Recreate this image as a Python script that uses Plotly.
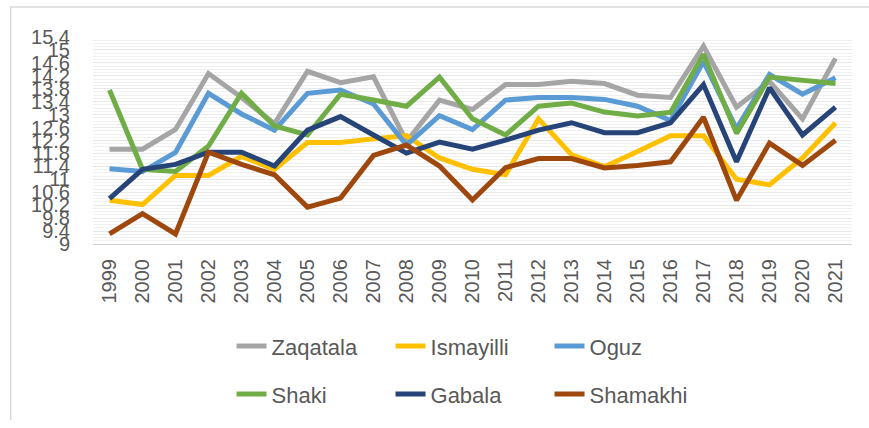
import plotly.graph_objects as go

years = [str(y) for y in range(1999, 2022)]

zaqatala = [11.93, 11.93, 12.54, 14.27, 13.53, 12.72, 14.34, 13.99, 14.17, 12.17, 13.45, 13.16,
            13.93, 13.93, 14.03, 13.96, 13.60, 13.53, 15.12, 13.23, 14.03, 12.87, 14.74]
ismayilli = [10.35, 10.22, 11.12, 11.12, 11.71, 11.31, 12.14, 12.14, 12.25, 12.35, 11.66, 11.31,
             11.14, 12.87, 11.76, 11.39, 11.86, 12.35, 12.35, 11.00, 10.83, 11.66, 12.74]
oguz = [11.33, 11.24, 11.83, 13.66, 13.02, 12.52, 13.66, 13.76, 13.33, 12.06, 12.97, 12.54,
        13.45, 13.53, 13.53, 13.47, 13.26, 12.82, 14.64, 12.57, 14.24, 13.63, 14.14]
shaki = [13.76, 11.31, 11.24, 12.03, 13.66, 12.65, 12.37, 13.63, 13.45, 13.26, 14.16, 12.87,
         12.37, 13.26, 13.36, 13.08, 12.96, 13.07, 14.87, 12.42, 14.16, 14.06, 13.96]
gabala = [10.40, 11.31, 11.46, 11.84, 11.84, 11.41, 12.52, 12.94, 12.37, 11.81, 12.15, 11.93,
          12.21, 12.52, 12.75, 12.44, 12.44, 12.75, 13.93, 11.54, 13.83, 12.37, 13.23]
shamakhi = [9.31, 9.94, 9.31, 11.84, 11.46, 11.14, 10.14, 10.42, 11.74, 12.06, 11.41, 10.36,
            11.36, 11.64, 11.64, 11.35, 11.43, 11.54, 12.92, 10.35, 12.12, 11.43, 12.21]

series = [
    ("Zaqatala", zaqatala, "#A5A5A5", "legend"),
    ("Ismayilli", ismayilli, "#FFC000", "legend"),
    ("Oguz", oguz, "#5B9BD5", "legend"),
    ("Shaki", shaki, "#70AD47", "legend2"),
    ("Gabala", gabala, "#264478", "legend2"),
    ("Shamakhi", shamakhi, "#9E480E", "legend2"),
]

y_ticks = [round(9 + 0.4 * i, 1) for i in range(17)]
y_labels = [f"{v:g}" for v in y_ticks]

fig = go.Figure()
for name, vals, color, leg in series:
    fig.add_trace(go.Scatter(
        x=years, y=vals, name=name, mode="lines",
        line=dict(color=color, width=5),
        legend=leg,
    ))

font_col = "#595959"
fam = "Liberation Sans, Arial, sans-serif"

legend_common = dict(
    orientation="h", xanchor="left", yanchor="middle",
    entrywidth=114, entrywidthmode="pixels",
    font=dict(family=fam, size=22, color=font_col),
    bgcolor="rgba(0,0,0,0)", itemwidth=30, tracegroupgap=0,
)

fig.update_layout(
    width=869, height=428,
    margin=dict(l=93, r=17, t=37, b=180),
    paper_bgcolor="white", plot_bgcolor="white",
    xaxis=dict(
        type="category", range=[-0.5, 22.5],
        tickangle=-90, tickfont=dict(family=fam, size=20, color=font_col),
        showgrid=False, showline=True, linecolor="#d0d0d0", linewidth=1,
        ticks="", ticklabelstandoff=6,
    ),
    yaxis=dict(
        range=[9, 15.4], tickvals=y_ticks, ticktext=y_labels,
        tickfont=dict(family=fam, size=20, color=font_col),
        showgrid=True, gridcolor="#e8e8e8", gridwidth=1,
        minor=dict(dtick=0.1, tick0=9, showgrid=True, gridcolor="#f1f1f1", gridwidth=1),
        zeroline=False, showline=False, ticks="", ticklabelstandoff=22,
    ),
    legend=dict(x=0.1825, y=-0.494, **legend_common),
    legend2=dict(x=0.1825, y=-0.726, **legend_common),
    shapes=[
        dict(type="path", xref="paper", yref="paper",
             path="M -0.1085,-0.85 L -0.1085,1.1455 L 1.03,1.1455",
             line=dict(color="#d9d9d9", width=1.5)),
    ],
)

fig.write_html("out.html")
